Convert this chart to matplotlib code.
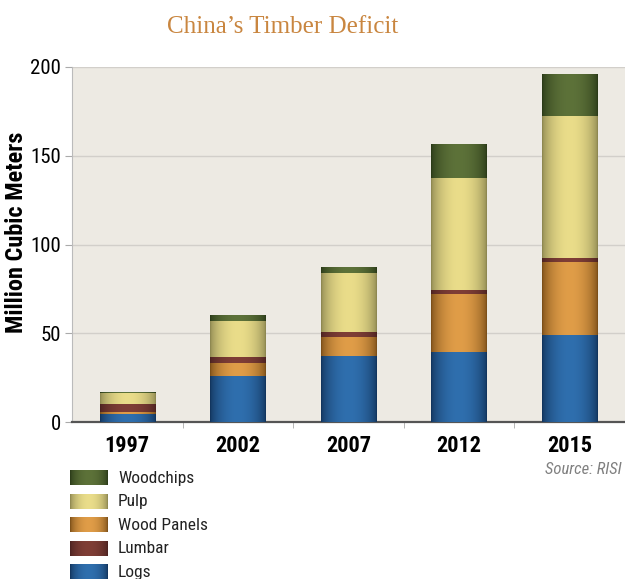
import numpy as np
import matplotlib
matplotlib.use("Agg")
import matplotlib.pyplot as plt
from matplotlib import font_manager

years = ["1997", "2002", "2007", "2012", "2015"]
logs = [4.5, 26.0, 37.0, 39.5, 49.0]
wood_panels = [1.3, 7.0, 10.8, 32.5, 41.2]
lumbar = [4.5, 3.5, 2.8, 2.2, 2.3]
pulp = [6.0, 20.5, 33.6, 63.3, 79.8]
woodchips = [0.3, 3.0, 2.9, 18.9, 23.6]

# stacking order, bottom to top
series = [("Logs", logs, "#2f6fae", "#12345c"),
          ("Wood Panels", wood_panels, "#e09d48", "#7a4e18"),
          ("Lumbar", lumbar, "#7f3e36", "#4a2220"),
          ("Pulp", pulp, "#eadd8a", "#8c8650"),
          ("Woodchips", woodchips, "#5d7239", "#2a3a18")]
legend_order = ["Woodchips", "Pulp", "Wood Panels", "Lumbar", "Logs"]

names = {f.name for f in font_manager.fontManager.ttflist}
narrow = "DejaVu Sans"
for cand in ["Liberation Sans Narrow", "Roboto Condensed", "Open Sans Condensed",
             "Noto Sans Condensed"]:
    if cand in names:
        narrow = cand
        break
serif = "Liberation Serif" if "Liberation Serif" in names else "DejaVu Serif"
nfont = dict(fontfamily=narrow, fontstretch="condensed")


def gradient(center, edge, n=64):
    c = np.array(matplotlib.colors.to_rgb(center))
    e = np.array(matplotlib.colors.to_rgb(edge))
    t = np.linspace(-1, 1, n)
    w = np.cos(t * np.pi / 2) ** 0.6
    return (e[None, :] + (c - e)[None, :] * w[:, None])[None, :, :]


fig = plt.figure(figsize=(6.25, 5.79), dpi=100)
ax = fig.add_axes([72 / 625, 157 / 579, 553 / 625, 355 / 579])
ax.set_facecolor("#edeae3")

x = np.arange(len(years))
bottom = np.zeros(len(years))
for name, vals, center, edge in series:
    bars = ax.bar(x, vals, 0.5, bottom=bottom, color=center, zorder=3)
    img = gradient(center, edge)
    for p in bars.patches:
        ax.imshow(img, extent=(p.get_x(), p.get_x() + p.get_width(),
                               p.get_y(), p.get_y() + p.get_height()),
                  aspect="auto", zorder=4, interpolation="bilinear")
    bottom += np.array(vals)

ax.set_xlim(-0.5, len(years) - 0.5)
ax.set_ylim(0, 200)
ax.set_yticks([0, 50, 100, 150, 200])
ax.yaxis.grid(True, color="#d2cfca", lw=1, zorder=0)
ax.set_axisbelow(True)

ax.set_xticks(x)
ax.set_xticklabels(years, fontweight="bold", fontsize=16, **nfont)
ax.set_xticks(x[:-1] + 0.5, minor=True)
ax.tick_params(axis="x", which="major", length=0, pad=9)
ax.tick_params(axis="x", which="minor", length=4, color="#aaaaaa")
ax.tick_params(axis="y", length=5, color="#aaaaaa", pad=3)
for lab in ax.get_yticklabels():
    lab.set_fontfamily(narrow)
    lab.set_fontstretch("condensed")
    lab.set_fontsize(15)

for s in ["top", "right"]:
    ax.spines[s].set_visible(False)
ax.spines["left"].set_color("#bbbbbb")
ax.spines["bottom"].set_color("#555555")
ax.spines["bottom"].set_linewidth(1.6)

ax.set_ylabel("Million Cubic Meters", fontweight="bold", fontsize=17.5, **nfont)
ax.yaxis.set_label_coords(-44 / 553, 0.535)

fig.text(283 / 625, 1 - 27 / 579, "China\u2019s Timber Deficit", fontfamily=serif,
         fontsize=18, color="#c98640", ha="center", va="center")
fig.text(622 / 625, 1 - 469 / 579, "Source: RISI", fontstyle="italic",
         fontsize=12, color="#808080", ha="right", va="center", **nfont)

# legend
lax = fig.add_axes([0, 0, 1, 1], facecolor="none")
lax.axis("off")
lookup = {s[0]: s for s in series}
for i, name in enumerate(legend_order):
    _, _, center, edge = lookup[name]
    yc = 478 + i * 23.5
    lax.imshow(gradient(center, edge), extent=(70, 108, yc + 7.5, yc - 7.5),
               aspect="auto", interpolation="bilinear")
    lax.text(118, yc, name, fontsize=12.5, va="center", color="#222222", **nfont)
lax.set_xlim(0, 625)
lax.set_ylim(579, 0)

fig.savefig("out.png", dpi=100)
